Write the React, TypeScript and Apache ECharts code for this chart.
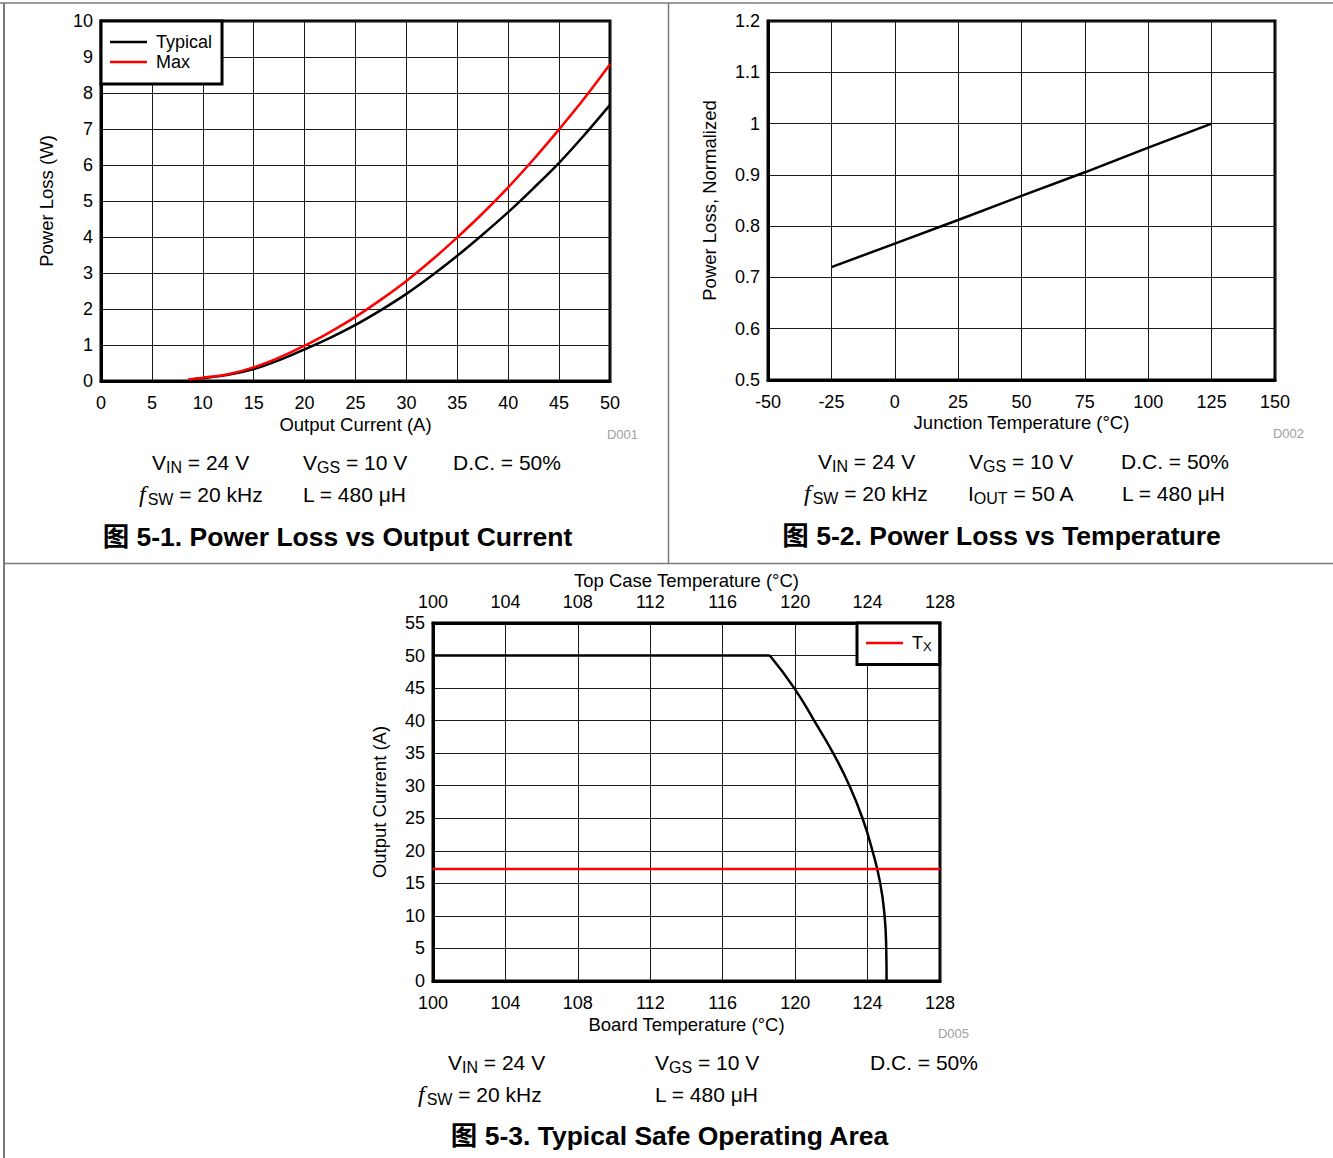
import React, { useEffect, useRef } from "react";
import * as echarts from "echarts";

// ---------- data ----------
const lossCurrentX = [8.6, 10, 12.5, 15, 17.5, 20, 22.5, 25, 27.5, 30, 32.5, 35, 37.5, 40, 42.5, 45, 47.5, 50];
const lossTypical = [0.04, 0.08, 0.17, 0.33, 0.58, 0.88, 1.2, 1.56, 1.97, 2.42, 2.93, 3.48, 4.07, 4.69, 5.36, 6.06, 6.84, 7.67];
const lossMax = [0.04, 0.09, 0.19, 0.38, 0.65, 0.98, 1.36, 1.78, 2.26, 2.78, 3.36, 3.99, 4.66, 5.38, 6.16, 6.99, 7.86, 8.8];

const tempX = [-25, 0, 25, 50, 75, 100, 125];
const tempLoss = [0.72, 0.766, 0.812, 0.859, 0.905, 0.953, 1.0];

const soaFlatX = [100, 118.6];
const soaFlatY = [50, 50];
const soaCurveX = [118.6, 119.95, 121.05, 122.1, 123.0, 123.72, 124.27, 124.7, 124.94, 125.03, 125.05];
const soaCurveY = [50, 45, 40, 35, 30, 25, 20, 15, 10, 5, 0];
const txX = [100, 128];
const txY = [17.2, 17.2];

const F = "'Liberation Sans', Arial, 'Noto Sans CJK SC', sans-serif";

const zip = (xs: number[], ys: number[]) => xs.map((x, i) => [x, ys[i]]);

const RICH = {
  n: { fontSize: 21, fontFamily: F, fill: "#000" },
  s: { fontSize: 16, fontFamily: F, fill: "#000", padding: [10, 0, 0, 0] },
  f: { fontSize: 24, fontFamily: "'Liberation Serif', serif", fontStyle: "italic", fill: "#000", padding: [0, 2, 0, 0] },
};

function ann(x: number, y: number, text: string) {
  return {
    type: "text",
    x,
    y,
    z: 10,
    style: { text, rich: RICH, fontSize: 21, fontFamily: F, fill: "#000", verticalAlign: "middle" },
  };
}
function title(x: number, y: number, text: string) {
  return {
    type: "text",
    x,
    y,
    z: 10,
    style: { text, fontSize: 26.5, fontWeight: "bold", fontFamily: F, fill: "#000", align: "center", verticalAlign: "middle" },
  };
}
function dlabel(x: number, y: number, text: string) {
  return {
    type: "text",
    x,
    y,
    z: 10,
    style: { text, fontSize: 13, fontFamily: F, fill: "#a0a0a0", align: "right", verticalAlign: "middle" },
  };
}
function frameLine(x1: number, y1: number, x2: number, y2: number, w = 1.5) {
  return { type: "line", z: 10, shape: { x1, y1, x2, y2 }, style: { stroke: "#7a7a7a", lineWidth: w } };
}

const axisLabel = { fontSize: 18, fontFamily: F, color: "#000" };
const nameStyle = { fontSize: 18.5, fontFamily: F, color: "#000" };
const splitLine = { show: true, lineStyle: { color: "#1a1a1a", width: 1 } };
const axisLine = { show: true, onZero: false, lineStyle: { color: "#000", width: 3 } };

export default function App() {
  const ref = useRef<HTMLDivElement>(null);
  useEffect(() => {
    if (!ref.current) return;
    const chart = echarts.init(ref.current, null, { renderer: "svg" });
    const gridBase = { show: true, borderColor: "#000", borderWidth: 3, backgroundColor: "#fff", containLabel: false };
    const option: any = {
      animation: false,
      backgroundColor: "#fff",
      textStyle: { fontFamily: F },
      grid: [
        { ...gridBase, left: 101, top: 21, width: 509, height: 360 },
        { ...gridBase, left: 768, top: 21, width: 507, height: 359 },
        { ...gridBase, left: 433, top: 623, width: 507, height: 358 },
      ],
      xAxis: [
        {
          gridIndex: 0, type: "value", min: 0, max: 50, interval: 5,
          name: "Output Current (A)", nameLocation: "middle", nameGap: 34, nameTextStyle: nameStyle,
          axisLine, axisTick: { show: false }, axisLabel: { ...axisLabel, margin: 13 }, splitLine,
        },
        {
          gridIndex: 1, type: "value", min: -50, max: 150, interval: 25,
          name: "Junction Temperature (°C)", nameLocation: "middle", nameGap: 33, nameTextStyle: nameStyle,
          axisLine, axisTick: { show: false }, axisLabel: { ...axisLabel, margin: 13 }, splitLine,
        },
        {
          gridIndex: 2, type: "value", min: 100, max: 128, interval: 4,
          name: "Board Temperature (°C)", nameLocation: "middle", nameGap: 34, nameTextStyle: nameStyle,
          axisLine, axisTick: { show: false }, axisLabel: { ...axisLabel, margin: 13 }, splitLine,
        },
        {
          gridIndex: 2, type: "value", min: 100, max: 128, interval: 4, position: "top",
          name: "Top Case Temperature (°C)", nameLocation: "middle", nameGap: 33, nameTextStyle: nameStyle,
          axisLine, axisTick: { show: false }, axisLabel: { ...axisLabel, margin: 12 }, splitLine: { show: false },
        },
      ],
      yAxis: [
        {
          gridIndex: 0, type: "value", min: 0, max: 10, interval: 1,
          name: "Power Loss (W)", nameLocation: "middle", nameGap: 45, nameTextStyle: nameStyle,
          axisLine, axisTick: { show: false }, axisLabel: { ...axisLabel, margin: 8 }, splitLine,
        },
        {
          gridIndex: 1, type: "value", min: 0.5, max: 1.2, interval: 0.1,
          name: "Power Loss, Normalized", nameLocation: "middle", nameGap: 49, nameTextStyle: nameStyle,
          axisLine, axisTick: { show: false },
          axisLabel: { ...axisLabel, margin: 8, formatter: (v: number) => String(Math.round(v * 10) / 10) },
          splitLine,
        },
        {
          gridIndex: 2, type: "value", min: 0, max: 55, interval: 5,
          name: "Output Current (A)", nameLocation: "middle", nameGap: 44, nameTextStyle: nameStyle,
          axisLine, axisTick: { show: false }, axisLabel: { ...axisLabel, margin: 8 }, splitLine,
        },
      ],
      legend: [
        {
          data: [
            { name: "Typical", icon: "rect" },
            { name: "Max", icon: "rect" },
          ],
          orient: "vertical", left: 101, top: 21,
          padding: [12, 10, 13, 9], itemGap: 2, itemWidth: 37, itemHeight: 2.5,
          borderColor: "#000", borderWidth: 3, backgroundColor: "#fff",
          textStyle: { fontSize: 18, fontFamily: F, color: "#000", lineHeight: 18, padding: [0, 0, 0, 4] },
          selectedMode: false,
        },
        {
          data: [{ name: "Tx", icon: "rect" }],
          orient: "vertical", left: 857, top: 623,
          padding: [11, 8, 11, 9], itemWidth: 37, itemHeight: 2.5,
          borderColor: "#000", borderWidth: 3, backgroundColor: "#fff",
          formatter: () => "{t|T}{s|X}",
          textStyle: {
            fontSize: 18, fontFamily: F, color: "#000", padding: [0, 0, 0, 4],
            rich: {
              t: { fontSize: 18, fontFamily: F, color: "#000" },
              s: { fontSize: 13, fontFamily: F, color: "#000", padding: [8, 0, 0, 0] },
            },
          },
          selectedMode: false,
        },
      ],
      series: [
        {
          name: "Typical", type: "line", xAxisIndex: 0, yAxisIndex: 0, symbol: "none", smooth: 0.3,
          lineStyle: { color: "#000", width: 2.5 }, itemStyle: { color: "#000" },
          data: zip(lossCurrentX, lossTypical),
        },
        {
          name: "Max", type: "line", xAxisIndex: 0, yAxisIndex: 0, symbol: "none", smooth: 0.3,
          lineStyle: { color: "#f00", width: 2.5 }, itemStyle: { color: "#f00" },
          data: zip(lossCurrentX, lossMax),
        },
        {
          name: "Normalized", type: "line", xAxisIndex: 1, yAxisIndex: 1, symbol: "none",
          lineStyle: { color: "#000", width: 2.5 }, itemStyle: { color: "#000" },
          data: zip(tempX, tempLoss),
        },
        {
          name: "SOA", type: "line", xAxisIndex: 2, yAxisIndex: 2, symbol: "none",
          lineStyle: { color: "#000", width: 2.5 }, itemStyle: { color: "#000" },
          data: zip(soaFlatX, soaFlatY),
        },
        {
          name: "SOA curve", type: "line", xAxisIndex: 2, yAxisIndex: 2, symbol: "none", smooth: 0.5,
          lineStyle: { color: "#000", width: 2.5 }, itemStyle: { color: "#000" },
          data: zip(soaCurveX, soaCurveY),
        },
        {
          name: "Tx", type: "line", xAxisIndex: 2, yAxisIndex: 2, symbol: "none",
          lineStyle: { color: "#f00", width: 2.5 }, itemStyle: { color: "#f00" },
          data: zip(txX, txY),
        },
      ],
      graphic: [
        frameLine(0, 3, 1333, 3, 1.5),
        frameLine(4, 3, 4, 1158, 2),
        frameLine(668.5, 3, 668.5, 563, 1.5),
        frameLine(4, 563.5, 1333, 563.5, 1.5),
        dlabel(638, 434, "D001"),
        dlabel(1304, 433, "D002"),
        dlabel(969, 1033, "D005"),
        ann(152, 462, "{n|V}{s|IN}{n| = 24 V}"),
        ann(303, 462, "{n|V}{s|GS}{n| = 10 V}"),
        ann(453, 462, "{n|D.C. = 50%}"),
        ann(139, 494, "{f|f}{s|SW}{n| = 20 kHz}"),
        ann(303, 494, "{n|L = 480 μH}"),
        title(337.5, 537, "图 5-1. Power Loss vs Output Current"),
        ann(818, 461, "{n|V}{s|IN}{n| = 24 V}"),
        ann(969, 461, "{n|V}{s|GS}{n| = 10 V}"),
        ann(1121, 461, "{n|D.C. = 50%}"),
        ann(804, 493, "{f|f}{s|SW}{n| = 20 kHz}"),
        ann(968, 493, "{n|I}{s|OUT}{n| = 50 A}"),
        ann(1122, 493, "{n|L = 480 μH}"),
        title(1001.5, 536, "图 5-2. Power Loss vs Temperature"),
        ann(448, 1062, "{n|V}{s|IN}{n| = 24 V}"),
        ann(655, 1062, "{n|V}{s|GS}{n| = 10 V}"),
        ann(870, 1062, "{n|D.C. = 50%}"),
        ann(418, 1094, "{f|f}{s|SW}{n| = 20 kHz}"),
        ann(655, 1094, "{n|L = 480 μH}"),
        title(669.5, 1136, "图 5-3. Typical Safe Operating Area"),
      ],
    };
    chart.setOption(option);
    return () => chart.dispose();
  }, []);
  return (
    <div
      ref={ref}
      style={{ position: "absolute", left: 0, top: 0, width: 1333, height: 1158, background: "#fff" }}
    />
  );
}
